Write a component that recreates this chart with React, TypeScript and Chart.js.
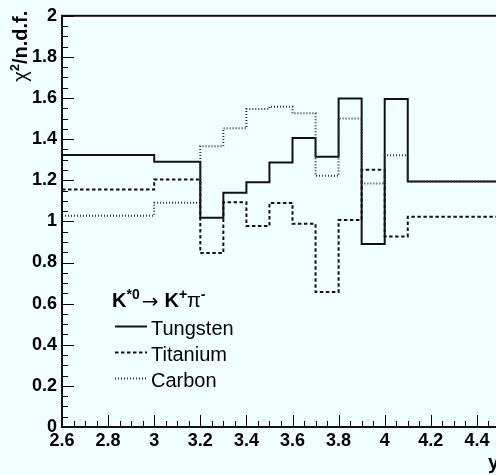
import React, { useEffect, useRef } from 'react';
import { Chart, registerables } from 'chart.js';

Chart.register(...registerables);

// bin edges (x, rapidity) and chi2/ndf per bin
const binEdges = [2.6, 3.0, 3.2, 3.3, 3.4, 3.5, 3.6, 3.7, 3.8, 3.9, 4.0, 4.1, 4.6];
const tungsten = [1.323, 1.29, 1.018, 1.139, 1.191, 1.287, 1.406, 1.314, 1.598, 0.89, 1.595, 1.194];
const titanium = [1.155, 1.204, 0.846, 1.093, 0.978, 1.09, 0.988, 0.657, 1.007, 1.251, 0.927, 1.023];
const carbon = [1.028, 1.091, 1.366, 1.453, 1.547, 1.558, 1.526, 1.222, 1.501, 1.184, 1.322, 1.194];
const seriesNames = ['Tungsten', 'Titanium', 'Carbon'];

const xMin = 2.6;
const xMax = 4.6;
const yMin = 0;
const yMax = 2;
const majorStep = 0.2;
const minorStep = 0.05;

const BG = '#f0ffff';
const FONT = '"Liberation Sans", Arial, Helvetica, sans-serif';
const CANVAS_W = 540;
const CANVAS_H = 475;

function stepPoints(values: number[]) {
  return binEdges.map((e, i) => ({ x: e, y: values[Math.min(i, values.length - 1)] }));
}

const fmt = (v: any) => String(parseFloat(Number(v).toFixed(2)));

const rootPlugin = {
  id: 'rootStyle',
  beforeDraw(chart: any) {
    const ctx = chart.ctx;
    ctx.save();
    ctx.fillStyle = BG;
    ctx.fillRect(0, 0, chart.width, chart.height);
    ctx.restore();
  },
  afterDraw(chart: any) {
    const ctx = chart.ctx;
    const a = chart.chartArea;
    const xs = chart.scales.x;
    const ys = chart.scales.y;
    ctx.save();
    // ticks
    ctx.strokeStyle = '#000';
    ctx.lineWidth = 1;
    const nx = Math.round((xMax - xMin) / minorStep);
    for (let i = 0; i <= nx; i++) {
      const v = xMin + i * minorStep;
      const px = Math.round(xs.getPixelForValue(v)) + 0.5;
      const len = i % 4 === 0 ? 12 : 6;
      ctx.beginPath();
      ctx.moveTo(px, a.bottom);
      ctx.lineTo(px, a.bottom - len);
      ctx.stroke();
    }
    const ny = Math.round((yMax - yMin) / minorStep);
    for (let i = 0; i <= ny; i++) {
      const v = yMin + i * minorStep;
      const py = Math.round(ys.getPixelForValue(v)) + 0.5;
      const len = i % 4 === 0 ? 12 : 6;
      ctx.beginPath();
      ctx.moveTo(a.left, py);
      ctx.lineTo(a.left + len, py);
      ctx.stroke();
    }
    // frame
    ctx.lineWidth = 2;
    ctx.strokeStyle = '#111';
    ctx.strokeRect(a.left, a.top, a.right - a.left, a.bottom - a.top);

    // y-axis title (rotated)
    ctx.fillStyle = '#000';
    ctx.textBaseline = 'alphabetic';
    ctx.save();
    ctx.translate(27, a.top - 5);
    ctx.rotate(-Math.PI / 2);
    const parts = [
      { t: '\u03c7', f: `20px ${FONT}`, dy: 0 },
      { t: '2', f: `bold 13px ${FONT}`, dy: -8 },
      { t: '/n.d.f.', f: `bold 20px ${FONT}`, dy: 0 },
    ];
    let W = 0;
    for (const p of parts) { ctx.font = p.f; W += ctx.measureText(p.t).width; }
    let cx = -W;
    for (const p of parts) {
      ctx.font = p.f;
      ctx.fillText(p.t, cx, p.dy);
      cx += ctx.measureText(p.t).width;
    }
    ctx.restore();

    // x-axis title
    ctx.font = `bold 20px ${FONT}`;
    ctx.textAlign = 'left';
    ctx.fillText('y', 488, 469);

    // legend header
    const hb = 307;
    let hx = 112;
    const hparts = [
      { t: 'K', f: `bold 20px ${FONT}`, dy: 0, gap: 0 },
      { t: '*0', f: `bold 14px ${FONT}`, dy: -8, gap: 2 },
      { t: '\u2192', f: `20px "DejaVu Sans", sans-serif`, dy: 1, gap: 6 },
      { t: 'K', f: `bold 20px ${FONT}`, dy: 0, gap: 0 },
      { t: '+', f: `bold 14px ${FONT}`, dy: -8, gap: 0 },
      { t: '\u03c0', f: `20px ${FONT}`, dy: 0, gap: 0 },
      { t: '-', f: `bold 14px ${FONT}`, dy: -8, gap: 0 },
    ];
    for (const p of hparts) {
      ctx.font = p.f;
      ctx.fillText(p.t, hx, hb + p.dy);
      hx += ctx.measureText(p.t).width + p.gap;
    }

    // legend entries
    const ly = [326.5, 352.5, 378.5];
    chart.data.datasets.forEach((ds: any) => {
      const k = seriesNames.indexOf(ds.label);
      const y = ly[k];
      ctx.save();
      ctx.strokeStyle = ds.borderColor;
      ctx.lineWidth = ds.borderWidth;
      ctx.setLineDash(ds.borderDash || []);
      ctx.beginPath();
      ctx.moveTo(115, y);
      ctx.lineTo(147, y);
      ctx.stroke();
      ctx.restore();
      ctx.font = `20px ${FONT}`;
      ctx.fillStyle = '#000';
      ctx.fillText(ds.label, 151, y + 8);
    });
    ctx.restore();
  },
};

export default function App() {
  const ref = useRef<HTMLCanvasElement | null>(null);
  useEffect(() => {
    if (!ref.current) return;
    const common = { stepped: 'before', pointRadius: 0, fill: false, borderWidth: 2 };
    const chart = new Chart(ref.current, {
      type: 'line',
      data: {
        datasets: [
          { ...common, label: seriesNames[2], data: stepPoints(carbon), borderColor: '#333', borderDash: [1, 2], order: 0 },
          { ...common, label: seriesNames[1], data: stepPoints(titanium), borderColor: '#111', borderDash: [3.5, 2.5], order: 1 },
          { ...common, label: seriesNames[0], data: stepPoints(tungsten), borderColor: '#111', order: 2 },
        ],
      },
      options: {
        animation: false,
        responsive: false,
        events: [],
        layout: { padding: { top: 10, right: CANVAS_W - 523, left: 0, bottom: 0 } },
        plugins: { legend: { display: false }, tooltip: { enabled: false } },
        scales: {
          x: {
            type: 'linear',
            min: xMin,
            max: xMax,
            border: { display: false },
            grid: { display: false, drawTicks: false },
            ticks: {
              stepSize: majorStep,
              autoSkip: false,
              maxRotation: 0,
              padding: 3,
              color: '#000',
              font: { family: FONT, size: 18, weight: 'bold' },
              callback: fmt,
            },
            afterFit: (s: any) => { s.height = 48; },
          },
          y: {
            type: 'linear',
            min: yMin,
            max: yMax,
            border: { display: false },
            grid: { display: false, drawTicks: false },
            ticks: {
              stepSize: majorStep,
              autoSkip: false,
              padding: 5,
              color: '#000',
              font: { family: FONT, size: 18, weight: 'bold' },
              callback: fmt,
            },
            afterFit: (s: any) => { s.width = 62; },
          },
        },
      },
      plugins: [rootPlugin],
    } as any);
    return () => chart.destroy();
  }, []);
  return (
    <div style={{ position: 'fixed', left: 0, top: 0, width: 496, height: 475, overflow: 'hidden', background: BG }}>
      <canvas ref={ref} width={CANVAS_W} height={CANVAS_H} style={{ display: 'block' }} />
    </div>
  );
}
